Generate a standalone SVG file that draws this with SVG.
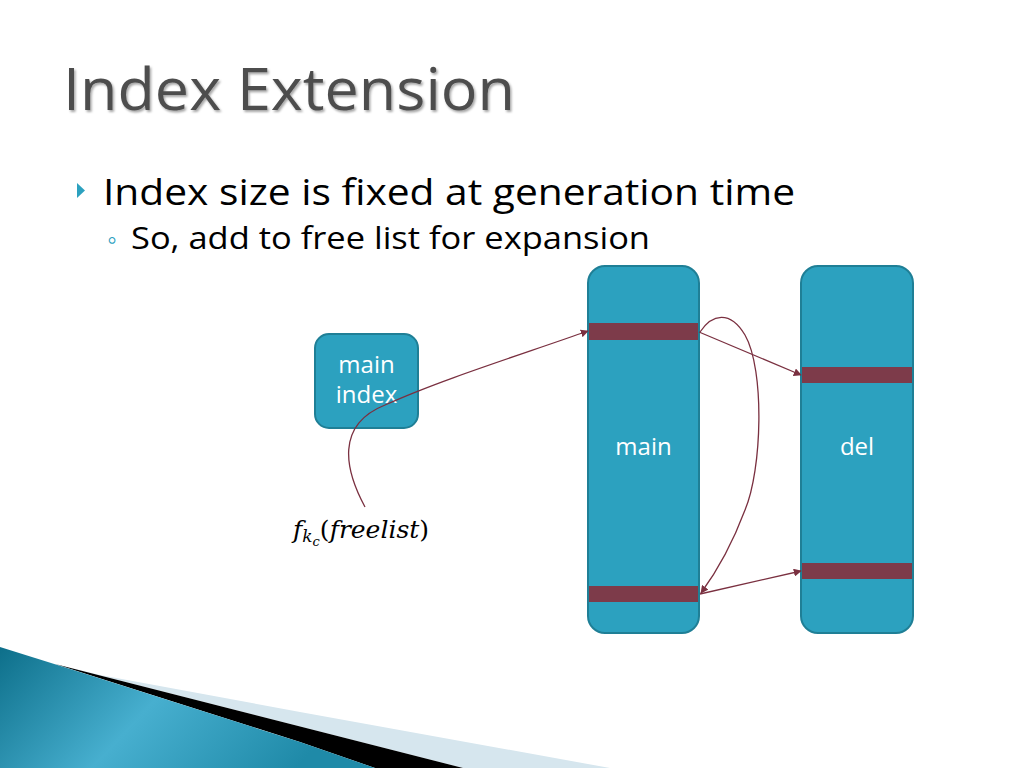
<svg xmlns="http://www.w3.org/2000/svg" width="1024" height="768" viewBox="0 0 1024 768">
<defs>
<linearGradient id="teal" x1="0" y1="0" x2="1" y2="0.3">
<stop offset="0" stop-color="#0d6f8a"/>
<stop offset="0.5" stop-color="#47afcf"/>
<stop offset="1" stop-color="#1f8aa8"/>
</linearGradient>
<marker id="arr" viewBox="0 0 10 10" refX="9" refY="5" markerWidth="8" markerHeight="8" markerUnits="userSpaceOnUse" orient="auto">
<path d="M0,0 L10,5 L0,10 z" fill="#7a3040"/>
</marker>
<filter id="sh" x="-5%" y="-5%" width="110%" height="120%">
<feDropShadow dx="1.5" dy="2" stdDeviation="1" flood-color="#000" flood-opacity="0.35"/>
</filter>
</defs>
<style>
.box{fill:#2ca1bf;stroke:#1f7f96;stroke-width:2}
.bar{fill:#7d3b4a}
.lbl{font-family:"Open Sans","Liberation Sans",sans-serif;font-size:24px;fill:#ffffff;text-anchor:middle}
.con{fill:none;stroke:#7a3040;stroke-width:1.3}
.txt{font-family:"Open Sans","Liberation Sans",sans-serif;fill:#000}
</style>
<rect width="1024" height="768" fill="#ffffff"/>

<!-- bottom swoosh -->
<polygon points="100,675 300,712 610,768 463,768 55,664" fill="#d6e6ee"/>
<polygon points="55,664 463,768 375,768 300,742" fill="#000"/>
<polygon points="0,647 67,668 300,742 375,768 0,768" fill="url(#teal)"/>

<!-- title -->
<text x="63" y="110" class="txt" font-size="58" style="fill:#4d4d4d" filter="url(#sh)" textLength="452" lengthAdjust="spacingAndGlyphs">Index Extension</text>

<!-- bullets -->
<polygon points="77,183 85,190.5 77,198" fill="#2ca1bf"/>
<text x="103" y="205" class="txt" font-size="37" textLength="692" lengthAdjust="spacingAndGlyphs">Index size is fixed at generation time</text>
<text x="107" y="249" class="txt" font-size="28" style="fill:#2ca1bf">◦</text>
<text x="131" y="249" class="txt" font-size="31" textLength="519" lengthAdjust="spacingAndGlyphs">So, add to free list for expansion</text>

<!-- nodes -->
<g id="main-index">
<rect class="box" x="315" y="334" width="103" height="94" rx="14"/>
<text class="lbl" x="366.5" y="373">main</text>
<text class="lbl" x="366.5" y="403">index</text>
</g>
<g id="main">
<rect class="box" x="588" y="266" width="111" height="367" rx="17"/>
<rect class="bar" x="589" y="323" width="109" height="17"/>
<rect class="bar" x="589" y="586" width="109" height="16"/>
<text class="lbl" x="643.5" y="455">main</text>
</g>
<g id="del">
<rect class="box" x="801" y="266" width="112" height="367" rx="17"/>
<rect class="bar" x="802" y="367" width="110" height="16"/>
<rect class="bar" x="802" y="563" width="110" height="16"/>
<text class="lbl" x="857" y="455">del</text>
</g>
<g id="freelist">
<text x="293" y="538" font-family="'DejaVu Serif','Liberation Serif',serif" font-size="25" fill="#000"><tspan font-style="italic">f</tspan><tspan font-style="italic" font-size="17" dy="4">k</tspan><tspan font-style="italic" font-size="13" dy="4">c</tspan><tspan dy="-8">(</tspan><tspan font-style="italic">freelist</tspan><tspan>)</tspan></text>
</g>

<!-- connectors -->
<g id="connectors">
<path class="con" marker-end="url(#arr)" d="M365,507 C345,470 335,425 385,405 C440,380 520,355 588,331"/>
<path class="con" marker-end="url(#arr)" d="M699,332 L801,375"/>
<path class="con" marker-end="url(#arr)" d="M700,332 C712,314 730,310 745,335 C765,370 762,470 745,510 C730,550 712,578 701,593"/>
<path class="con" marker-end="url(#arr)" d="M700,594 L801,571"/>
</g>
</svg>
